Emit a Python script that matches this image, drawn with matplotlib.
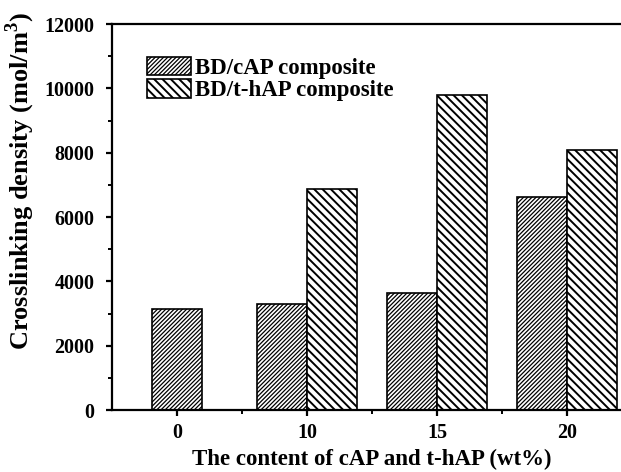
import matplotlib.pyplot as plt
import numpy as np

plt.rcParams['font.family'] = ['Liberation Serif', 'DejaVu Serif']
plt.rcParams['font.weight'] = 'bold'
plt.rcParams['mathtext.default'] = 'bf'
plt.rcParams['hatch.linewidth'] = 1.4

contenidos = ['0', '10', '15', '20']
cap = [3150, 3290, 3630, 6640]
thap = [np.nan, 6870, 9780, 8100]

fig = plt.figure(figsize=(6.21, 4.72), dpi=100)
ax = fig.add_axes([0.180, 0.131, 0.838, 0.818])

x = np.arange(len(contenidos))
ancho = 0.385

# la primera categoria solo tiene barra de cAP, centrada en el tick
pos_cap = x - ancho / 2
pos_cap[0] = x[0]
barras_cap = ax.bar(pos_cap, cap, ancho, color='white', edgecolor='black',
                    hatch='////////', linewidth=1.2, label='BD/cAP composite')
barras_thap = ax.bar(x[1:] + ancho / 2, thap[1:], ancho, color='white', edgecolor='black',
                     hatch='\\\\\\\\', linewidth=1.2, label='BD/t-hAP composite')
for b in barras_cap:
    if hasattr(b, 'set_hatch_linewidth'):
        b.set_hatch_linewidth(0.9)

ax.set_xlim(-0.5, 3.5)
ax.set_ylim(0, 12000)
ax.set_xticks(x)
ax.set_xticklabels(contenidos)
ax.set_xticks(x[:-1] + 0.5, minor=True)
ax.set_yticks(np.arange(0, 12001, 2000))
ax.set_yticks(np.arange(1000, 12000, 2000), minor=True)

for s in ax.spines.values():
    s.set_linewidth(1.6)
ax.tick_params(which='major', direction='out', length=4.5, width=1.6, labelsize=14.4, pad=5)
ax.tick_params(axis='y', which='major', pad=8)
ax.tick_params(which='minor', direction='out', length=3, width=1.4)

ax.set_xlabel('The content of cAP and t-hAP (wt%)', fontsize=16.5, fontweight='bold', labelpad=4)
ax.set_ylabel('Crosslinking density (mol/m$^{\\mathregular{3}}$)', fontsize=19, fontweight='bold')
ax.yaxis.set_label_coords(-0.144, 0.593)

leg = ax.legend(loc='upper left', bbox_to_anchor=(0.05, 0.938), frameon=False,
                fontsize=16.5, handlelength=1.9, handleheight=0.85, handletextpad=0.2,
                labelspacing=0.0, borderaxespad=0)
for h in leg.legend_handles[:1]:
    if hasattr(h, 'set_hatch_linewidth'):
        h.set_hatch_linewidth(0.9)

fig.savefig('out.png', dpi=100)
